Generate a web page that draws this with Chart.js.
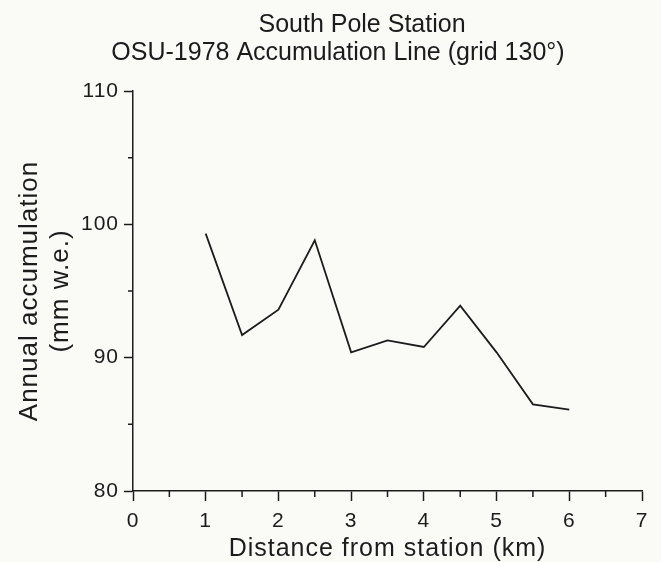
<!DOCTYPE html>
<html>
<head>
<meta charset="utf-8">
<script src="https://cdn.jsdelivr.net/npm/chart.js"></script>
<style>
  html, body { margin: 0; padding: 0; background: #fafaf7; }
  canvas { display: block; }
</style>
</head>
<body>
<canvas id="myChart" width="661" height="562"></canvas>
<script>
// distance from station (km) and annual accumulation (mm w.e.)
var distances = [1, 1.5, 2, 2.5, 3, 3.5, 4, 4.5, 5, 5.5, 6];
var accumulation = [99.3, 91.7, 93.6, 98.8, 90.4, 91.3, 90.8, 93.9, 90.4, 86.5, 86.1];
var xTicks = [0, 1, 2, 3, 4, 5, 6, 7];
var yTicks = [80, 90, 100, 110];
var titleLines = ["South Pole Station", "OSU-1978 Accumulation Line (grid 130\u00b0)"];

var FONT = "'Liberation Sans', Arial, Helvetica, sans-serif";
var INK = "#1c1c1c";

// the old typesetting is a bit looser than Arial, so open the letters up a little
var spacing = {
  id: "spacing",
  beforeUpdate: function (chart) { chart.ctx.letterSpacing = "1px"; },
  beforeDraw: function (chart) { chart.ctx.letterSpacing = "1px"; }
};

// minor ticks halfway between the major ones, plus the two title lines
var extras = {
  id: "extras",
  afterDraw: function (chart) {
    var ctx = chart.ctx;
    var xs = chart.scales.x, ys = chart.scales.y;
    ctx.save();
    ctx.strokeStyle = INK;
    ctx.lineWidth = 1.5;
    ctx.beginPath();
    for (var i = 0; i < xTicks.length - 1; i++) {
      var px = xs.getPixelForValue((xTicks[i] + xTicks[i + 1]) / 2);
      ctx.moveTo(px, xs.top);
      ctx.lineTo(px, xs.top + 6);
    }
    for (var j = 0; j < yTicks.length - 1; j++) {
      var py = ys.getPixelForValue((yTicks[j] + yTicks[j + 1]) / 2);
      ctx.moveTo(ys.right, py);
      ctx.lineTo(ys.right - 5, py);
    }
    ctx.stroke();

    ctx.fillStyle = INK;
    ctx.letterSpacing = "0px";
    ctx.font = "25px " + FONT;
    ctx.textAlign = "center";
    ctx.textBaseline = "alphabetic";
    ctx.fillText(titleLines[0], 362, 32);
    ctx.fillText(titleLines[1], 338, 60);
    ctx.restore();
  }
};

var ctx = document.getElementById("myChart").getContext("2d");
var myChart = new Chart(ctx, {
  type: "line",
  data: {
    datasets: [
      {
        data: distances.map(function (d, i) { return { x: d, y: accumulation[i] }; }),
        borderColor: INK,
        borderWidth: 1.8,
        pointRadius: 0,
        tension: 0,
        fill: false
      }
    ]
  },
  options: {
    responsive: false,
    animation: false,
    devicePixelRatio: 1,
    layout: { padding: { top: 91, right: 19, left: 0, bottom: 0 } },
    plugins: {
      legend: { display: false },
      tooltip: { enabled: false },
      title: { display: false }
    },
    scales: {
      x: {
        type: "linear",
        min: xTicks[0],
        max: xTicks[xTicks.length - 1],
        afterFit: function (s) { s.height = 71; },
        afterBuildTicks: function (s) { s.ticks = xTicks.map(function (v) { return { value: v }; }); },
        grid: { drawOnChartArea: false, drawTicks: true, tickLength: 10, tickColor: INK, tickWidth: 1.5 },
        border: { display: true, color: INK, width: 1.5 },
        ticks: { color: INK, font: { family: FONT, size: 21 }, padding: 8, maxRotation: 0 },
        title: {
          display: true,
          text: "Distance from station (km)",
          color: INK,
          font: { family: FONT, size: 25, lineHeight: 1 },
          padding: { top: 0, bottom: 0 }
        }
      },
      y: {
        min: yTicks[0],
        max: yTicks[yTicks.length - 1],
        afterFit: function (s) { s.width = 133; },
        afterBuildTicks: function (s) { s.ticks = yTicks.map(function (v) { return { value: v }; }); },
        grid: { drawOnChartArea: false, drawTicks: true, tickLength: 9, tickColor: INK, tickWidth: 1.5 },
        border: { display: true, color: INK, width: 1.5 },
        ticks: { color: INK, font: { family: FONT, size: 21 }, padding: 5 },
        title: {
          display: true,
          text: ["Annual accumulation", "(mm w.e.)"],
          color: INK,
          font: { family: FONT, size: 26, lineHeight: 1.2 },
          padding: { top: 14, bottom: 0 }
        }
      }
    }
  },
  plugins: [spacing, extras]
});
</script>
</body>
</html>
